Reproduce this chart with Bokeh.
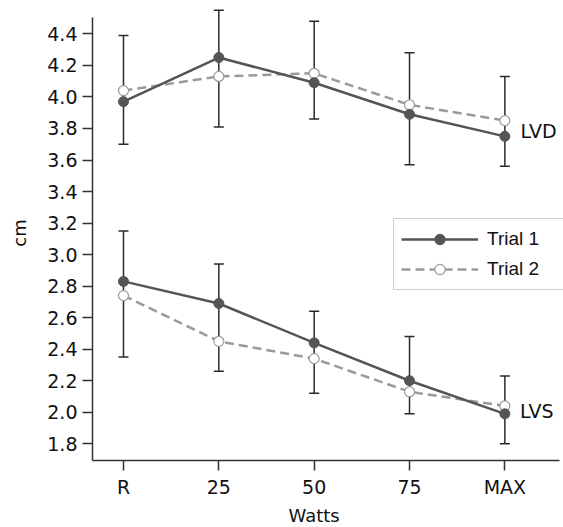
from bokeh.plotting import figure
from bokeh.models import (ColumnDataSource, Whisker, TeeHead, FixedTicker, Legend,
                          LegendItem, Range1d, Title)
from bokeh.embed import file_html
from bokeh.resources import INLINE
from bokeh.core.properties import value

categories = ["R", "25", "50", "75", "MAX"]
lvd_trial1 = [3.97, 4.25, 4.09, 3.89, 3.75]
lvd_trial2 = [4.04, 4.13, 4.15, 3.95, 3.85]
lvs_trial1 = [2.83, 2.69, 2.44, 2.20, 1.99]
lvs_trial2 = [2.74, 2.45, 2.34, 2.13, 2.04]
lvd_err_upper = [4.39, 4.55, 4.48, 4.28, 4.13]
lvd_err_lower = [3.70, 3.81, 3.86, 3.57, 3.56]
lvs_err_upper = [3.15, 2.94, 2.64, 2.48, 2.23]
lvs_err_lower = [2.35, 2.26, 2.12, 1.99, 1.80]
y_ticks = [1.8, 2.0, 2.2, 2.4, 2.6, 2.8, 3.0, 3.2, 3.4, 3.6, 3.8, 4.0, 4.2, 4.4]
y_tick_labels = ["1.8", "2.0", "2.2", "2.4", "2.6", "2.8", "3.0", "3.2", "3.4",
                 "3.6", "3.8", "4.0", "4.2", "4.4"]
series_names = ["Trial 1", "Trial 2"]
group_labels = ["LVD", "LVS"]

xs = list(range(len(categories)))
FONT = "DejaVu Sans"
LFONT = "Liberation Sans"
FS = "19px"
C1 = "#555555"
C2 = "#9a9a9a"
EC = "#2a2a2a"
TC = "#111111"

p = figure(width=563, height=527, output_backend="svg", toolbar_location=None,
           x_range=Range1d(-0.325, 4.615), y_range=Range1d(1.694, 4.58),
           min_border_left=92, min_border_right=0, min_border_top=5, min_border_bottom=66)
p.outline_line_color = None
p.xgrid.grid_line_color = None
p.ygrid.grid_line_color = None
p.background_fill_color = "white"

# error bars
for up, lo in [(lvd_err_upper, lvd_err_lower), (lvs_err_upper, lvs_err_lower)]:
    src = ColumnDataSource(dict(base=xs, upper=up, lower=lo))
    w = Whisker(base="base", upper="upper", lower="lower", source=src,
                line_color=EC, line_width=1.5, level="underlay",
                upper_head=TeeHead(size=10, line_color=EC, line_width=1.5),
                lower_head=TeeHead(size=10, line_color=EC, line_width=1.5))
    p.add_layout(w)

legend_renderers = {0: [], 1: []}
for gi, (t1, t2) in enumerate([(lvd_trial1, lvd_trial2), (lvs_trial1, lvs_trial2)]):
    l2 = p.line(xs, t2, line_color=C2, line_width=2.5, line_dash="9 5")
    l1 = p.line(xs, t1, line_color=C1, line_width=2.5)
    s2 = p.scatter(xs, t2, marker="circle", size=10, fill_color="white",
                   line_color=C2, line_width=1.2)
    s1 = p.scatter(xs, t1, marker="circle", size=10, fill_color=C1, line_color=C1)
    if gi == 0:
        legend_renderers[0] = [l1, s1]
        legend_renderers[1] = [l2, s2]

# group labels
p.text(x=[4.165, 4.16], y=[3.784, 2.005], text=group_labels,
       text_font=value(FONT), text_font_size=FS, text_color=TC,
       text_align="left", text_baseline="middle")

# axes
p.yaxis.ticker = FixedTicker(ticks=y_ticks)
p.yaxis.major_label_overrides = {t: s for t, s in zip(y_ticks, y_tick_labels)}
p.yaxis.bounds = (1.694, 4.505)
p.xaxis.ticker = FixedTicker(ticks=xs)
p.xaxis.major_label_overrides = {i: c for i, c in zip(xs, categories)}
p.xaxis.bounds = (-0.325, 4.57)
for ax in (p.xaxis, p.yaxis):
    ax.axis_line_color = "#333333"
    ax.axis_line_width = 1.5
    ax.major_tick_line_color = "#333333"
    ax.major_tick_line_width = 1.5
    ax.major_tick_out = 10
    ax.major_tick_in = 0
    ax.minor_tick_line_color = None
    ax.major_label_standoff = 5
    ax.major_label_text_font = FONT
    ax.major_label_text_font_size = FS
    ax.major_label_text_color = TC
    ax.axis_label_text_font = FONT
    ax.axis_label_text_font_size = "18px"
    ax.axis_label_text_font_style = "normal"
    ax.axis_label_text_color = TC
p.yaxis.axis_label = "cm"
p.yaxis.axis_label_standoff = 14

# x-axis title, placed below the axis
p.add_layout(Title(text="Watts", align="left", offset=196, standoff=4,
                   text_font=FONT, text_font_size="18px", text_font_style="normal",
                   text_color=TC), "below")

legend = Legend(items=[LegendItem(label=series_names[0], renderers=legend_renderers[0]),
                       LegendItem(label=series_names[1], renderers=legend_renderers[1])],
                location=(301, 170), border_line_color="#999999", border_line_width=1,
                background_fill_color="white", background_fill_alpha=1.0,
                glyph_width=77, glyph_height=26, label_height=26, label_width=70,
                spacing=4, padding=7, margin=0, label_standoff=9,
                label_text_font=LFONT, label_text_font_size=FS, label_text_color=TC)
p.add_layout(legend)

open("out.html", "w").write(file_html(p, INLINE))
